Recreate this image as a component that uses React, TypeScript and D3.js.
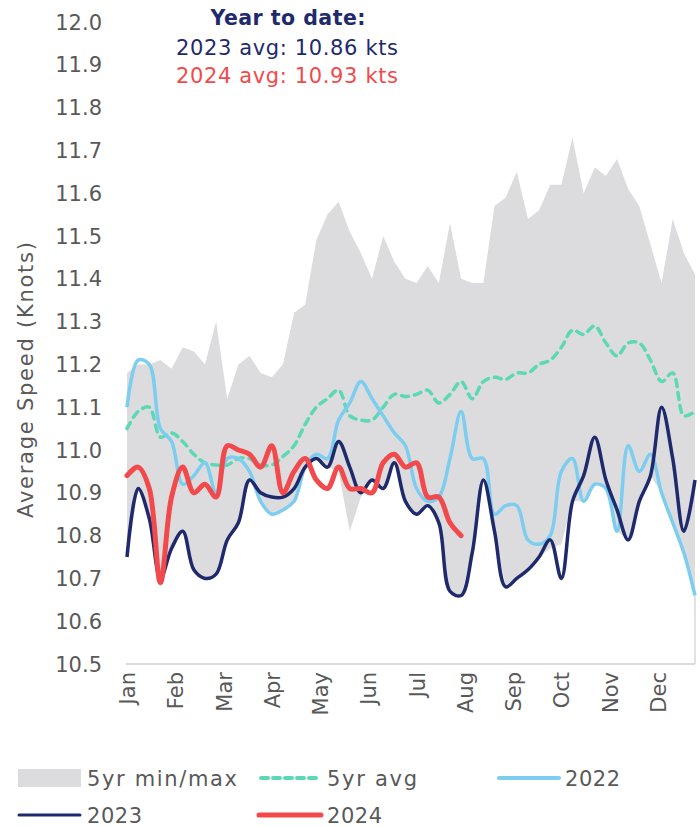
import React from 'react';
import * as d3 from 'd3';

const MONTHS = ['Jan','Feb','Mar','Apr','May','Jun','Jul','Aug','Sep','Oct','Nov','Dec'];
const Y_TICKS = [12.0, 11.9, 11.8, 11.7, 11.6, 11.5, 11.4, 11.3, 11.2, 11.1, 11.0, 10.9, 10.8, 10.7, 10.6, 10.5];

const BAND_MAX = [11.18,11.20,11.20,11.21,11.19,11.24,11.23,11.20,11.30,11.12,11.20,11.22,11.18,11.17,11.20,11.32,11.34,11.49,11.55,11.58,11.51,11.46,11.40,11.50,11.44,11.40,11.39,11.43,11.39,11.53,11.40,11.39,11.39,11.57,11.59,11.65,11.54,11.56,11.62,11.62,11.73,11.60,11.66,11.64,11.68,11.61,11.57,11.48,11.39,11.54,11.46,11.41];
const BAND_MIN = [10.75,10.91,10.84,10.70,10.77,10.81,10.72,10.70,10.71,10.79,10.83,10.93,10.88,10.85,10.86,10.88,10.96,10.98,10.96,10.95,10.81,10.89,10.93,10.91,10.97,10.88,10.85,10.87,10.83,10.67,10.66,10.76,10.93,10.81,10.68,10.70,10.72,10.75,10.77,10.78,10.88,10.88,10.92,10.91,10.81,10.79,10.88,10.94,10.90,10.83,10.76,10.66];
const AVG_5YR = [11.05,11.09,11.10,11.03,11.04,11.02,10.99,10.97,10.965,10.965,10.98,10.98,10.965,10.965,10.985,11.01,11.06,11.10,11.12,11.14,11.08,11.07,11.07,11.10,11.13,11.125,11.13,11.14,11.11,11.13,11.16,11.12,11.16,11.17,11.165,11.18,11.18,11.20,11.21,11.24,11.28,11.27,11.29,11.25,11.22,11.25,11.25,11.21,11.16,11.18,11.08,11.09];
const S2022 = [11.10,11.21,11.20,11.05,11.02,10.92,10.94,10.97,10.90,10.98,10.98,10.95,10.88,10.85,10.86,10.88,10.96,10.99,10.98,11.07,11.11,11.16,11.12,11.08,11.04,11.01,10.91,10.88,10.89,10.98,11.09,10.98,10.98,10.85,10.87,10.87,10.79,10.78,10.80,10.95,10.98,10.88,10.92,10.91,10.81,11.01,10.95,10.99,10.90,10.83,10.76,10.66];
const S2023 = [10.75,10.91,10.84,10.70,10.77,10.81,10.72,10.70,10.71,10.79,10.83,10.93,10.90,10.89,10.89,10.91,10.96,10.98,10.96,11.02,10.96,10.90,10.93,10.91,10.97,10.88,10.85,10.87,10.83,10.67,10.66,10.76,10.93,10.81,10.68,10.70,10.72,10.75,10.79,10.70,10.88,10.94,11.03,10.93,10.86,10.79,10.88,10.94,11.10,10.98,10.81,10.93];
const S2024 = [10.94,10.96,10.91,10.69,10.89,10.96,10.90,10.92,10.89,11.01,11.00,10.99,10.96,11.01,10.90,10.95,10.98,10.93,10.91,10.96,10.91,10.91,10.90,10.97,10.99,10.96,10.97,10.89,10.89,10.83,10.80];

const C_BAND = '#dcdcde';
const C_AVG = '#5cd8b4';
const C_2022 = '#7ccdf0';
const C_2023 = '#1f2a6c';
const C_2024 = '#f24a4c';
const C_TEXT = '#595959';
const FONT = 'DejaVu Sans';

export default function App() {
  const x = d3.scaleLinear().domain([0, 51]).range([127, 695]);
  const y = d3.scaleLinear().domain([10.5, 12.0]).range([664, 22]);

  const area = d3.area<number>()
    .x((_, i) => x(i))
    .y0((_, i) => y(BAND_MIN[i]))
    .y1((d) => y(d))
    .curve(d3.curveLinear);

  const line = d3.line<number>()
    .x((_, i) => x(i))
    .y((d) => y(d))
    .curve(d3.curveCatmullRom.alpha(0.5));

  const monthX = (k: number) => x((k * 52) / 12);

  return (
    <svg width={700} height={827} style={{ position: 'absolute', left: 0, top: 0, background: '#fff' }} fontFamily={FONT}>
      <rect x={0} y={0} width={700} height={827} fill="#fff" />
      {/* band */}
      <path d={area(BAND_MAX) || ''} fill={C_BAND} />
      {/* right edge & axis */}
      <line x1={695} x2={695} y1={y(BAND_MIN[51])} y2={664} stroke="#d9d9d9" strokeWidth={1.5} />
      <line x1={126} x2={695} y1={664} y2={664} stroke="#d0d0d0" strokeWidth={1.5} />

      {/* y ticks */}
      {Y_TICKS.map((t) => (
        <text key={t} x={102} y={y(t)} dy="0.36em" textAnchor="end" fontSize={21} fill={C_TEXT}>
          {t.toFixed(1)}
        </text>
      ))}
      {/* y title */}
      <text transform={`translate(33,380) rotate(-90)`} textAnchor="middle" fontSize={21} fill={C_TEXT} textLength={276} lengthAdjust="spacing">
        Average Speed (Knots)
      </text>

      {/* month labels */}
      {MONTHS.map((m, k) => (
        <text key={m} transform={`translate(${monthX(k) + 8},672) rotate(-90)`} textAnchor="end" fontSize={21} fill={C_TEXT}>
          {m}
        </text>
      ))}

      {/* lines */}
      <path d={line(AVG_5YR) || ''} fill="none" stroke={C_AVG} strokeWidth={3.5} strokeDasharray="7 6" strokeLinecap="round" />
      <path d={line(S2022) || ''} fill="none" stroke={C_2022} strokeWidth={3.5} strokeLinejoin="round" />
      <path d={line(S2023) || ''} fill="none" stroke={C_2023} strokeWidth={3.5} strokeLinejoin="round" />
      <path d={line(S2024) || ''} fill="none" stroke={C_2024} strokeWidth={5} strokeLinejoin="round" strokeLinecap="round" />

      {/* title */}
      <text x={288} y={25} textAnchor="middle" fontSize={20.5} fontWeight="bold" fill={C_2023} textLength={155} lengthAdjust="spacing">Year to date:</text>
      <text x={287} y={55} textAnchor="middle" fontSize={21} fill={C_2023} textLength={222} lengthAdjust="spacing">2023 avg: 10.86 kts</text>
      <text x={287} y={83} textAnchor="middle" fontSize={21} fill={C_2024} textLength={222} lengthAdjust="spacing">2024 avg: 10.93 kts</text>

      {/* legend */}
      <rect x={18} y={769} width={63} height={18} fill={C_BAND} />
      <text x={87} y={786} fontSize={21} fill={C_TEXT} textLength={150} lengthAdjust="spacing">5yr min/max</text>
      <line x1={261} x2={320} y1={778} y2={778} stroke={C_AVG} strokeWidth={4} strokeDasharray="7 5" strokeLinecap="round" />
      <text x={327} y={786} fontSize={21} fill={C_TEXT} textLength={90} lengthAdjust="spacing">5yr avg</text>
      <line x1={499} x2={559} y1={778} y2={778} stroke={C_2022} strokeWidth={4} strokeLinecap="round" />
      <text x={565} y={786} fontSize={21} fill={C_TEXT} textLength={55} lengthAdjust="spacing">2022</text>
      <line x1={19} x2={80} y1={815} y2={815} stroke={C_2023} strokeWidth={3} strokeLinecap="round" />
      <text x={87} y={823} fontSize={21} fill={C_TEXT} textLength={55} lengthAdjust="spacing">2023</text>
      <line x1={259} x2={321} y1={815} y2={815} stroke={C_2024} strokeWidth={5} strokeLinecap="round" />
      <text x={327} y={823} fontSize={21} fill={C_TEXT} textLength={55} lengthAdjust="spacing">2024</text>
    </svg>
  );
}
